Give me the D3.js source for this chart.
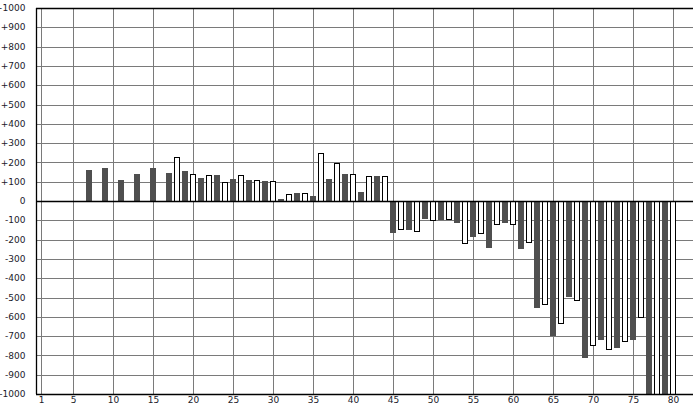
<!DOCTYPE html>
<html><head><meta charset="utf-8">
<script src="https://cdn.jsdelivr.net/npm/d3@7"></script>
<style>body{margin:0;background:#fff}svg{display:block}text{font-family:"DejaVu Sans",Verdana,sans-serif;font-size:9px;fill:#1a1a2a}</style>
</head><body><svg id="c" width="693" height="405"></svg>
<script>
const darkX   = [7,9,11,13,15,17,19,21,23,25,27,29,31,33,35,37,39,41,43,45,47,49,51,53,55,57,59,61,63,65,67,69,71,73,75,77,79];
const darkVal = [163,173,111,142,173,147,157,121,137,116,111,105,12,43,28,116,142,48,131,-165,-149,-92,-97,-113,-185,-243,-113,-248,-555,-700,-497,-814,-721,-763,-721,-1000,-1000];
const whiteX   = [18,20,22,24,26,28,30,32,34,36,38,40,42,44,46,48,50,52,54,56,58,60,62,64,66,68,70,72,74,76,78,80];
const whiteVal = [230,142,137,100,137,111,105,38,43,251,199,142,131,131,-144,-154,-97,-92,-217,-165,-118,-118,-211,-534,-632,-513,-747,-768,-726,-601,-1000,-1000];
const xTicks = [1,5,10,15,20,25,30,35,40,45,50,55,60,65,70,75,80];
const yTicks = d3.range(-1000,1001,100);
const yLabel = v => v>0 ? "+"+v : String(v);

const svg = d3.select("#c");
const x = d3.scaleLinear().domain([0,82.5]).range([33,693]);
const y = d3.scaleLinear().domain([-1000,1000]).range([394,8]);
const L = x(0.375), R = 693, T = y(1000), B = y(-1000);
const crisp = v => Math.round(v)+0.5;

// grid
svg.append("g").selectAll("line").data(xTicks).join("line")
  .attr("x1",d=>crisp(x(d))).attr("x2",d=>crisp(x(d))).attr("y1",T).attr("y2",B)
  .attr("stroke","#7a7a7a").attr("stroke-width",1);
svg.append("g").selectAll("line").data(yTicks.filter(d=>d!==0&&Math.abs(d)!==1000)).join("line")
  .attr("x1",L).attr("x2",R).attr("y1",d=>crisp(y(d))).attr("y2",d=>crisp(y(d)))
  .attr("stroke","#7a7a7a").attr("stroke-width",1);

// bars
const bw = 0.75;
const clipId = "pc";
svg.append("clipPath").attr("id",clipId).append("rect").attr("x",L).attr("y",T).attr("width",R-L).attr("height",B-T);
const bars = svg.append("g").attr("clip-path","url(#"+clipId+")");
bars.selectAll("rect.d").data(darkX.map((v,i)=>({x:v,v:darkVal[i]}))).join("rect")
  .attr("class","d")
  .attr("x",d=>Math.round(x(d.x-bw/2))).attr("width",d=>Math.round(x(d.x+bw/2))-Math.round(x(d.x-bw/2)))
  .attr("y",d=>Math.round(y(Math.max(0,d.v)))).attr("height",d=>Math.abs(Math.round(y(d.v))-Math.round(y(0))))
  .attr("fill","#4f4f4f");
bars.selectAll("rect.w").data(whiteX.map((v,i)=>({x:v,v:whiteVal[i]}))).join("rect")
  .attr("class","w")
  .attr("x",d=>Math.round(x(d.x-bw/2))+0.5).attr("width",d=>Math.round(x(d.x+bw/2))-Math.round(x(d.x-bw/2))-1)
  .attr("y",d=>Math.round(y(Math.max(0,d.v)))+0.5).attr("height",d=>Math.abs(Math.round(y(d.v))-Math.round(y(0))))
  .attr("fill","#fff").attr("stroke","#000").attr("stroke-width",1);

// axes lines
const ax = svg.append("g").attr("stroke","#000").attr("stroke-width",1.3);
ax.append("line").attr("x1",L).attr("x2",R).attr("y1",crisp(y(0))).attr("y2",crisp(y(0)));
ax.append("line").attr("x1",L).attr("x2",R).attr("y1",crisp(T)).attr("y2",crisp(T));
ax.append("line").attr("x1",L).attr("x2",R).attr("y1",crisp(B)).attr("y2",crisp(B));
ax.append("line").attr("x1",crisp(L)).attr("x2",crisp(L)).attr("y1",T).attr("y2",B);

// labels
svg.append("g").selectAll("text").data(yTicks).join("text")
  .attr("x",25.5).attr("y",d=>y(d)).attr("dy","0.35em").attr("text-anchor","end")
  .text(yLabel);
svg.append("g").selectAll("text").data(xTicks).join("text")
  .attr("x",d=>x(d)+0.5).attr("y",403).attr("text-anchor","middle")
  .text(d=>d);
</script></body></html>
